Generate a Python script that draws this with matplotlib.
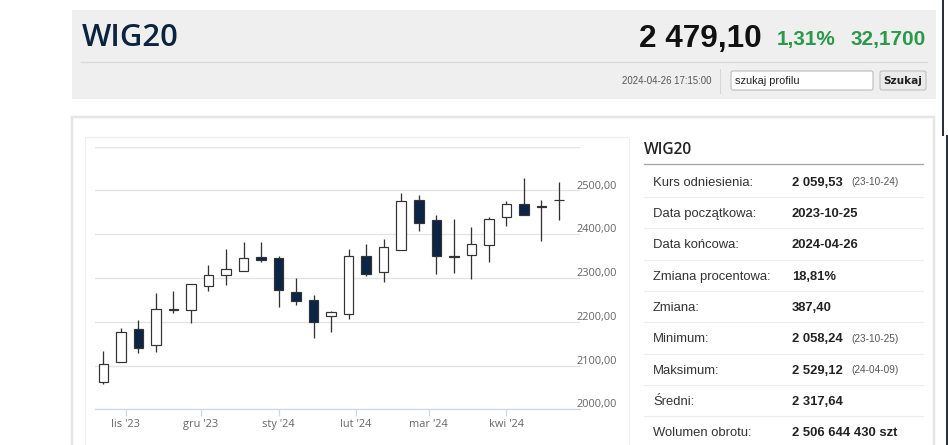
import matplotlib
matplotlib.use('Agg')
import matplotlib.pyplot as plt
import matplotlib.dates as mdates
import matplotlib.transforms as mtrans
from matplotlib.patches import Rectangle, FancyBboxPatch

# weekly candles (week start dates)
weeks = ['2023-10-23', '2023-10-30', '2023-11-06', '2023-11-13', '2023-11-20',
         '2023-11-27', '2023-12-04', '2023-12-11', '2023-12-18', '2023-12-25',
         '2024-01-01', '2024-01-08', '2024-01-15', '2024-01-22', '2024-01-29',
         '2024-02-05', '2024-02-12', '2024-02-19', '2024-02-26', '2024-03-04',
         '2024-03-11', '2024-03-18', '2024-03-25', '2024-04-01', '2024-04-08',
         '2024-04-15', '2024-04-22']
opens = [2062.0, 2109.0, 2184.6, 2147.3, 2228.5, 2225.8, 2281.7, 2306.9, 2316.8,
         2348.8, 2345.0, 2267.0, 2249.6, 2212.1, 2218.3, 2351.1, 2313.8, 2364.9,
         2477.8, 2433.6, 2350.5, 2351.8, 2376.3, 2439.7, 2469.5, 2465.5, 2478.0]
highs = [2133.5, 2186.9, 2202.9, 2265.7, 2270.2, 2287.0, 2328.9, 2366.4, 2381.6,
         2381.6, 2351.1, 2300.0, 2260.2, 2225.1, 2367.1, 2378.6, 2389.4, 2494.7,
         2490.1, 2444.3, 2435.2, 2415.9, 2439.7, 2474.8, 2529.1, 2477.1, 2520.0]
lows = [2058.2, 2109.0, 2129.6, 2131.9, 2219.9, 2197.0, 2270.2, 2284.7, 2316.0,
        2336.7, 2232.7, 2237.3, 2163.3, 2177.7, 2206.8, 2305.3, 2290.9, 2364.9,
        2406.8, 2309.2, 2311.5, 2298.4, 2337.4, 2418.2, 2444.3, 2383.9, 2433.6]
closes = [2103.0, 2176.4, 2140.4, 2229.0, 2226.0, 2286.3, 2306.0, 2320.7, 2346.5,
          2342.0, 2273.2, 2248.0, 2200.0, 2222.8, 2350.4, 2309.2, 2371.0, 2476.4,
          2425.1, 2349.5, 2348.0, 2377.0, 2435.2, 2470.2, 2444.3, 2463.0, 2479.1]

month_ticks = ['2023-11-01', '2023-12-01', '2024-01-01', '2024-02-01', '2024-03-01', '2024-04-01']
month_labels = ["lis '23", "gru '23", "sty '24", "lut '24", "mar '24", "kwi '24"]
y_ticks = [2000, 2100, 2200, 2300, 2400, 2500, 2600]
y_labeled = [2000, 2100, 2200, 2300, 2400, 2500]

# header texts
title = 'WIG20'
price = '2 479,10'
change_pct = '1,31%'
change_abs = '32,1700'
stamp = '2024-04-26 17:15:00'

# side table
row_labels = ['Kurs odniesienia:', 'Data początkowa:', 'Data końcowa:', 'Zmiana procentowa:',
              'Zmiana:', 'Minimum:', 'Maksimum:', 'Średni:', 'Wolumen obrotu:']
row_values = ['2 059,53', '2023-10-25', '2024-04-26', '18,81%', '387,40',
              '2 058,24', '2 529,12', '2 317,64', '2 506 644 430 szt']
row_notes = ['(23-10-24)', '', '', '', '', '(23-10-25)', '(24-04-09)', '', '']

W, H = 948, 445
def pt(px):
    return px * 0.72

NAVY = '#0c2446'
GREEN = '#2a9a48'

fig = plt.figure(figsize=(W / 100, H / 100), dpi=100)
fig.patch.set_facecolor('white')

# page layer in pixel coordinates
bg = fig.add_axes([0, 0, 1, 1])
bg.set_xlim(0, W)
bg.set_ylim(H, 0)
bg.axis('off')

# header box
bg.add_patch(Rectangle((72, 10), 864, 89, facecolor='#efefef', edgecolor='none'))
bg.plot([81, 927], [62, 62], color='#d9d9d9', lw=pt(1.2))
bg.text(82, 46.5, title, fontsize=pt(31), family='Open Sans', weight='semibold',
        color='#0c2340', va='baseline')
bg.text(762, 46.5, price, fontsize=pt(31.5), family='Liberation Sans', weight='bold',
        color='#111111', va='baseline', ha='right')
bg.text(777, 45, change_pct, fontsize=pt(20.8), family='Liberation Sans', weight='bold',
        color=GREEN, va='baseline')
bg.text(926, 45, change_abs, fontsize=pt(20.8), family='Liberation Sans', weight='bold',
        color=GREEN, va='baseline', ha='right')
bg.text(712, 84.5, stamp, fontsize=pt(9.7), family='Liberation Sans', color='#555555',
        va='baseline', ha='right')
bg.plot([720, 720], [69, 93], color='#d6d6d6', lw=pt(1))
bg.add_patch(FancyBboxPatch((731, 71), 142, 19, boxstyle='round,pad=0,rounding_size=2',
                            facecolor='white', edgecolor='#b5b5b5', lw=pt(1)))
bg.text(735, 84.5, 'szukaj profilu', fontsize=pt(11), family='Liberation Sans',
        color='#222222', va='baseline')
bg.add_patch(FancyBboxPatch((880, 71), 46, 19, boxstyle='round,pad=0,rounding_size=2',
                            facecolor='#ebebeb', edgecolor='#bdbdbd', lw=pt(1)))
bg.text(903, 84.5, 'Szukaj', fontsize=pt(10.5), family='DejaVu Sans', weight='bold',
        color='#222222', va='baseline', ha='center')

# card and chart panel
bg.add_patch(Rectangle((72, 117), 862, 340, facecolor='white', edgecolor='#e6e6e6', lw=pt(2.5)))
bg.add_patch(Rectangle((85, 137), 544, 320, facecolor='white', edgecolor='#efefef', lw=pt(1.2)))

# screen edge
bg.plot([943, 943], [0, 135], color='#2b2f3a', lw=pt(2))
bg.add_patch(Rectangle((946.5, 135), 2, 310, facecolor='#2b3040', edgecolor='none'))

# side table
bg.text(644, 153.5, 'WIG20', fontsize=pt(15.5), family='Open Sans', weight='semibold',
        color='#222222', va='baseline')
bg.plot([644, 923], [164, 164], color='#a5a5a5', lw=pt(1.3))
for i, (lab, val, note) in enumerate(zip(row_labels, row_values, row_notes)):
    yc = 181 + 31.35 * i
    bg.text(653, yc + 4.7, lab, fontsize=pt(13), family='Liberation Sans', color='#333333', va='baseline')
    bg.text(792, yc + 4.7, val, fontsize=pt(13), family='Liberation Sans', weight='bold',
            color='#222222', va='baseline')
    if note:
        bg.text(851, yc + 4.2, note, fontsize=pt(10), family='Liberation Sans', color='#555555',
                va='baseline')
    if i < len(row_labels) - 1:
        bg.plot([644, 923], [yc + 16, yc + 16], color='#ececec', lw=pt(1.2))

# candlestick chart
d = mdates.datestr2num(weeks)
d0 = d[0] - 3.31
ax = fig.add_axes([95 / W, 1 - 409.3 / H, 485 / W, 262.6 / H])
ax.patch.set_alpha(0)
ax.set_xlim(d0, d0 + 193.7)
ax.set_ylim(2000, 2600)

ax.set_yticks(y_ticks)
ax.grid(axis='y', color='#e3e3e3', lw=pt(1.3))
ax.set_axisbelow(True)
for s in ['top', 'left', 'right']:
    ax.spines[s].set_visible(False)
ax.spines['bottom'].set_color('#ccd6eb')
ax.spines['bottom'].set_linewidth(pt(1.2))
ax.set_xticks(mdates.datestr2num(month_ticks))
ax.tick_params(axis='x', length=pt(7), width=pt(1.2), color='#ccd6eb', labelbottom=False)
ax.tick_params(axis='y', length=0, labelleft=False)

fills = ['white' if c >= o else NAVY for o, c in zip(opens, closes)]
bottoms = [min(o, c) for o, c in zip(opens, closes)]
heights = [max(abs(c - o), 1.2) for o, c in zip(opens, closes)]
ax.vlines(d, lows, highs, color='#333333', lw=pt(1.3), zorder=2)
ax.bar(d, heights, bottom=bottoms, width=3.8, color=fills, edgecolor='#333333',
       linewidth=pt(1.2), zorder=3)

ytr = mtrans.offset_copy(ax.get_yaxis_transform(), fig=fig, x=0, y=pt(1.8), units='points')
for v in y_labeled:
    ax.text((576 - 95) / 485, v, f'{v:.2f}'.replace('.', ','), transform=ytr, fontsize=pt(11),
            family='Open Sans', color='#666666', va='baseline', clip_on=False)

xtr = mtrans.offset_copy(ax.get_xaxis_transform(), fig=fig, x=0, y=-pt(17.4), units='points')
for t, lab in zip(mdates.datestr2num(month_ticks), month_labels):
    ax.text(t, 0, lab, transform=xtr, fontsize=pt(11), family='Open Sans', color='#666666',
            ha='center', va='baseline', clip_on=False)

fig.savefig('out.png', dpi=100)
